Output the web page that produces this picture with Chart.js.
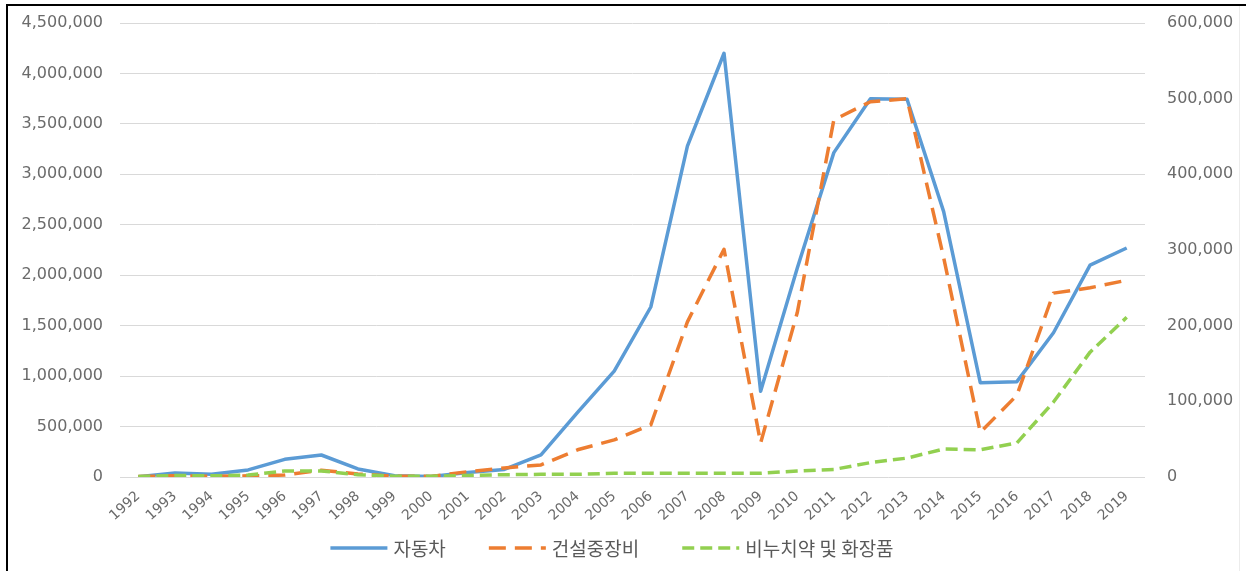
<!DOCTYPE html>
<html>
<head>
<meta charset="utf-8">
<script src="https://cdn.jsdelivr.net/npm/chart.js@4/dist/chart.umd.min.js"></script>
<style>
  html, body { margin: 0; padding: 0; background: #fff; }
  #wrap { position: relative; width: 1246px; height: 571px; overflow: hidden; }
  canvas { position: absolute; left: 0; top: 0; }
  .edge { position: absolute; pointer-events: none; }
  #edgeTop { left: 6px; top: 4px; width: 1240px; height: 2px; background: #000; }
  #edgeLeft { left: 6px; top: 4px; width: 2px; height: 567px; background: #000; }
  #edgeRight { left: 1239px; top: 6px; width: 1px; height: 565px; background: #ececec; }
</style>
</head>
<body>
<div id="wrap">
  <canvas id="chart" width="1246" height="571"></canvas>
  <div class="edge" id="edgeTop"></div>
  <div class="edge" id="edgeLeft"></div>
  <div class="edge" id="edgeRight"></div>
</div>
<script>
// Years on the category axis
const years = ['1992','1993','1994','1995','1996','1997','1998','1999','2000','2001',
               '2002','2003','2004','2005','2006','2007','2008','2009','2010','2011',
               '2012','2013','2014','2015','2016','2017','2018','2019'];

// 자동차 (left axis)
const cars = [3000, 40000, 27000, 70000, 175000, 218000, 80000, 13000, 5000, 45000,
              75000, 220000, 640000, 1050000, 1685000, 3280000, 4200000, 850000, 2070000, 3215000,
              3750000, 3745000, 2630000, 935000, 945000, 1430000, 2100000, 2270000];

// 건설중장비 (right axis)
const construction = [500, 1500, 1000, 1500, 2500, 9000, 4000, 1000, 800, 7000,
                      12000, 16000, 36000, 49000, 69000, 205000, 301000, 45000, 217000, 472000,
                      496000, 500000, 290000, 59000, 108000, 243000, 250000, 260000];

// 비누치약 및 화장품 (right axis)
const cosmetics = [500, 2000, 1500, 2500, 8000, 8000, 3000, 1000, 1000, 2000,
                   3000, 3500, 3500, 5000, 5000, 5000, 5000, 5000, 8000, 10000,
                   19000, 25000, 37000, 36000, 45000, 99000, 165000, 211000];

// Axis tick settings
const leftMax = 4500000, leftStep = 500000;
const rightMax = 600000, rightStep = 100000;

const seriesNames = ['자동차', '건설중장비', '비누치약 및 화장품'];
const colors = ['#5b9bd5', '#ed7d31', '#92d050'];
const dashes = [[], [17, 9], [12, 6]];

const tickFont = { family: 'DejaVu Sans', size: 16 };
const xTickFont = { family: 'DejaVu Sans', size: 14 };
const tickColor = '#6b6b6b';

const fmt = v => Number(v).toLocaleString('en-US');

// keep the axis labels from pushing the plot area down
function noLabelPad(s) { s.paddingTop = 0; s.paddingBottom = 0; }

// Bottom legend: line sample + series name, one row centred under the plot
const bottomLegend = {
  id: 'bottomLegend',
  afterDraw(chart) {
    const ctx = chart.ctx;
    const lineLen = 57, toText = 6, itemGap = 43, cy = 548, centerX = 612;
    ctx.save();
    ctx.font = '19px "Noto Sans CJK KR"';
    ctx.textBaseline = 'middle';
    ctx.textAlign = 'left';
    const sets = chart.data.datasets;
    const widths = sets.map(d => ctx.measureText(d.label).width);
    let total = 0;
    widths.forEach((w, i) => { total += lineLen + toText + w + (i < widths.length - 1 ? itemGap : 0); });
    let x = centerX - total / 2;
    sets.forEach((d, i) => {
      ctx.strokeStyle = d.borderColor;
      ctx.lineWidth = 3.5;
      ctx.lineCap = 'butt';
      ctx.setLineDash(d.borderDash || []);
      ctx.beginPath();
      ctx.moveTo(x, cy);
      ctx.lineTo(x + lineLen, cy);
      ctx.stroke();
      ctx.setLineDash([]);
      ctx.fillStyle = '#595959';
      ctx.fillText(d.label, x + lineLen + toText, cy + 1);
      x += lineLen + toText + widths[i] + itemGap;
    });
    ctx.restore();
  }
};

new Chart(document.getElementById('chart'), {
  type: 'line',
  data: {
    labels: years,
    datasets: [
      { label: seriesNames[0], data: cars, yAxisID: 'y', order: 2,
        borderColor: colors[0], borderWidth: 3.5, borderDash: dashes[0] },
      { label: seriesNames[1], data: construction, yAxisID: 'y2', order: 1,
        borderColor: colors[1], borderWidth: 3.5, borderDash: dashes[1] },
      { label: seriesNames[2], data: cosmetics, yAxisID: 'y2', order: 0,
        borderColor: colors[2], borderWidth: 3.5, borderDash: dashes[2] }
    ]
  },
  options: {
    responsive: false,
    animation: false,
    devicePixelRatio: 1,
    layout: { padding: { top: 23, left: 0, right: 0, bottom: 34 } },
    elements: {
      line: { tension: 0, fill: false, borderCapStyle: 'butt', borderJoinStyle: 'round' },
      point: { radius: 0, hoverRadius: 0 }
    },
    plugins: {
      tooltip: { enabled: false },
      legend: { display: false }
    },
    scales: {
      x: {
        type: 'category',
        offset: true,
        grid: { display: false, drawTicks: false },
        border: { display: false },
        ticks: { autoSkip: false, minRotation: 42, maxRotation: 42, padding: 11,
                 font: xTickFont, color: tickColor },
        afterFit(s) { s.height = 60; }
      },
      y: {
        position: 'left',
        min: 0, max: leftMax,
        grid: { color: '#d9d9d9', lineWidth: 1, drawTicks: false },
        border: { display: false },
        ticks: { stepSize: leftStep, padding: 17, font: tickFont, color: tickColor,
                 callback: v => fmt(v) },
        afterFit(s) { s.width = 120; noLabelPad(s); }
      },
      y2: {
        position: 'right',
        min: 0, max: rightMax,
        grid: { display: false, drawTicks: false },
        border: { display: false },
        ticks: { stepSize: rightStep, padding: 22, font: tickFont, color: tickColor,
                 callback: v => fmt(v) },
        afterFit(s) { s.width = 101; noLabelPad(s); }
      }
    }
  },
  plugins: [bottomLegend]
});
</script>
</body>
</html>
